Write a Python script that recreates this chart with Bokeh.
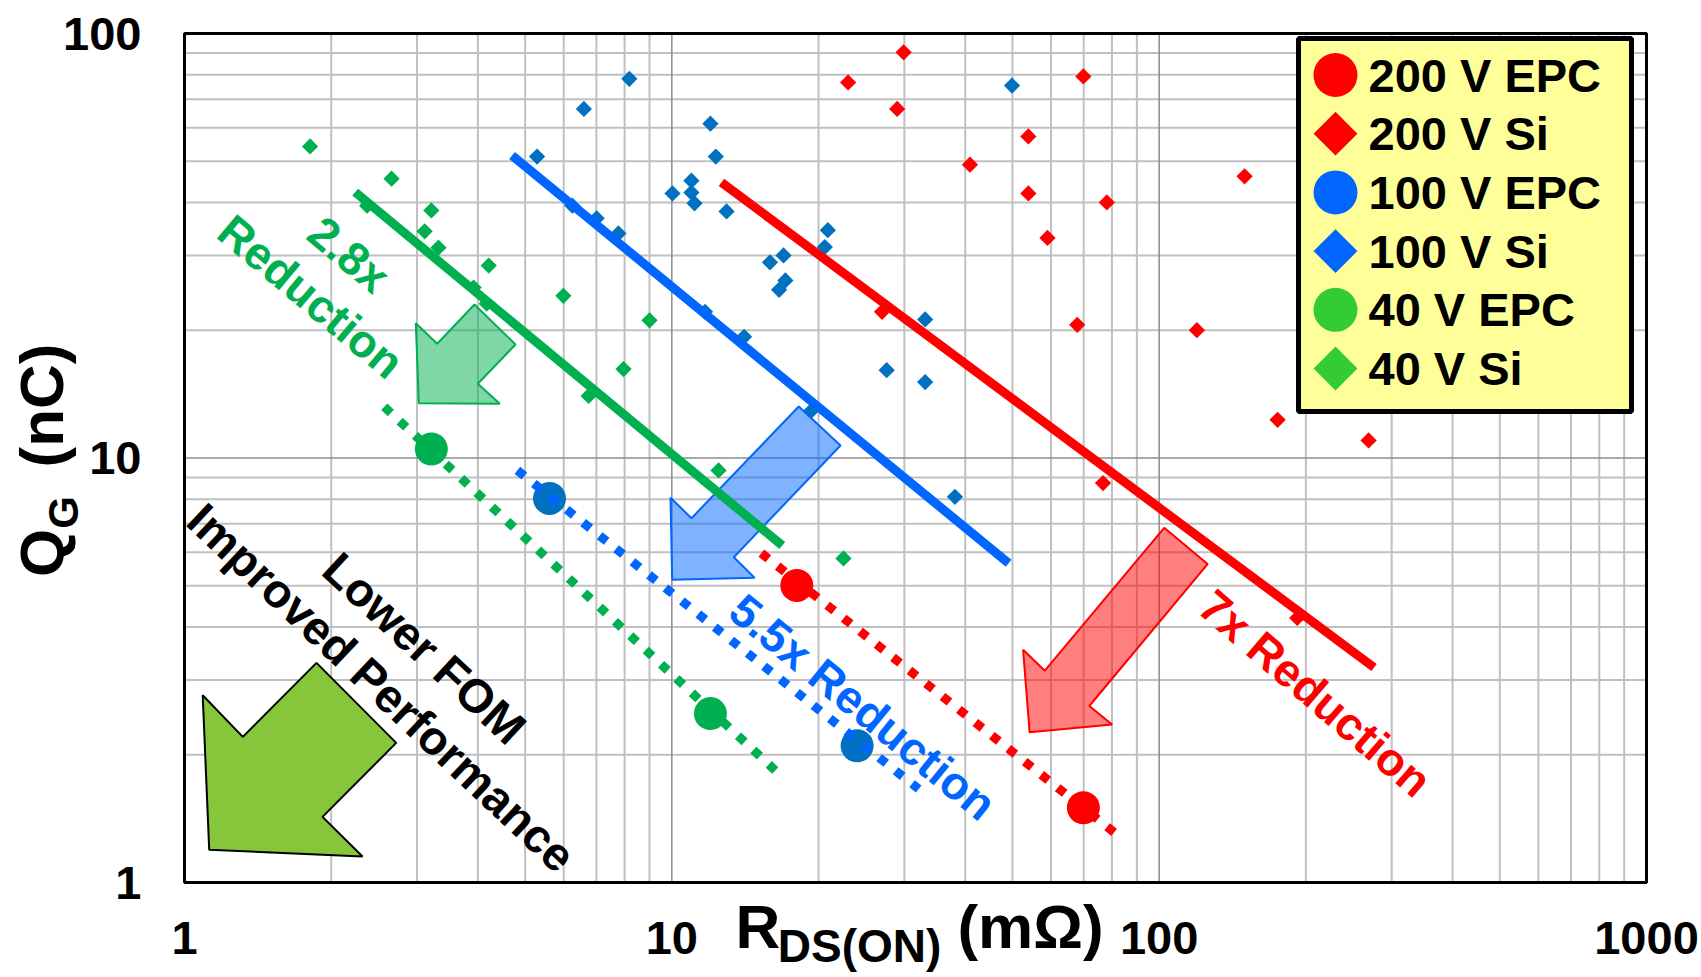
import math
from bokeh.plotting import figure
from bokeh.models import Range1d, LinearScale, Label, BoxAnnotation
from bokeh.embed import file_html
from bokeh.resources import INLINE

# ---------------- data ----------------
# 40 V silicon devices: RDS(on) [mOhm], QG [nC]
si40_r = [1.81, 2.66, 3.21, 3.11, 3.32, 2.37, 4.21, 3.92, 4.17, 5.99, 9.0, 7.96, 6.75, 12.47, 22.5]
si40_q = [54.2, 45.5, 38.3, 34.2, 31.3, 39.3, 28.4, 25.2, 23.1, 24.1, 21.1, 16.2, 14.0, 9.35, 5.80]

# 100 V silicon devices
si100_r = [8.18, 6.60, 12.0, 5.29, 12.31, 10.97, 10.97, 11.13, 10.03, 12.95, 6.25, 7.01, 7.77,
           20.9, 20.6, 16.95, 15.9, 17.1, 16.6, 11.7, 14.07, 19.3, 49.9, 33.1, 27.6, 33.1, 38.1]
si100_q = [78.2, 66.4, 61.3, 51.3, 51.3, 45.0, 42.2, 39.8, 42.0, 38.1, 39.3, 36.7, 33.8,
           34.4, 31.4, 30.0, 28.9, 26.2, 24.9, 22.1, 19.3, 12.9, 75.4, 21.2, 16.1, 15.1, 8.10]

# 200 V silicon devices
si200_r = [23.0, 29.9, 29.0, 69.9, 53.9, 40.9, 53.9, 78.1, 59.0, 149.7, 27.0, 67.9, 119.5, 175, 269, 76.7, 192]
si200_q = [76.7, 90.3, 66.4, 79.2, 57.2, 49.1, 42.0, 40.0, 33.0, 46.1, 22.1, 20.6, 20.0, 12.3, 11.0, 8.73, 4.20]

# EPC devices
epc40_r = [3.21, 12.0]
epc40_q = [10.5, 2.50]
epc100_r = [5.61, 24.0]
epc100_q = [8.03, 2.10]
epc200_r = [18.05, 69.9]
epc200_q = [5.01, 1.50]

# trend lines (end points)
fit_si40_r = [2.24, 16.85]
fit_si40_q = [42.3, 6.22]
fit_si100_r = [4.70, 49.1]
fit_si100_q = [51.6, 5.65]
fit_si200_r = [12.64, 276.0]
fit_si200_q = [44.6, 3.21]
fit_epc40_r = [2.57, 16.7]
fit_epc40_q = [13.2, 1.79]
fit_epc100_r = [4.82, 32.1]
fit_epc100_q = [9.35, 1.66]
fit_epc200_r = [15.26, 81.7]
fit_epc200_q = [5.97, 1.30]

# axes
x_major = [1, 10, 100, 1000]
x_labels = ["1", "10", "100", "1000"]
y_major = [1, 10, 100]
y_labels = ["1", "10", "100"]
x_minor = [m * 10 ** k for k in range(3) for m in range(2, 10)]
y_minor = [m * 10 ** k for k in range(2) for m in range(2, 10)]

legend_labels = ["200 V EPC", "200 V Si", "100 V EPC", "100 V Si", "40 V EPC", "40 V Si"]
legend_markers = ["circle", "square", "circle", "square", "circle", "square"]
legend_colors = ["#ff0000", "#ff0000", "#0066ff", "#0066ff", "#33cc33", "#33cc33"]

# ---------------- layout (canvas px) ----------------
W, H = 1700, 976
PL, PR, PT, PB = 184, 1646, 33, 882      # plot area edges on the canvas
DX = (PR - PL) / math.log10(x_major[-1] / x_major[0])
DY = (PB - PT) / math.log10(y_major[-1] / y_major[0])


def fx(x):
    return x


def fy(y):
    return H - y


FONT = "Liberation Sans"
RED, BLUE, GREEN = "#ff0000", "#0066ff", "#00b050"
DBLUE = "#0070c0"

xr = Range1d(x_major[0] * 10 ** (-PL / DX), x_major[-1] * 10 ** ((W - PR) / DX))
yr = Range1d(y_major[0] * 10 ** (-(H - PB) / DY), y_major[-1] * 10 ** (PT / DY))

p = figure(width=W, height=H, x_axis_type="log", y_axis_type="log",
           x_range=xr, y_range=yr,
           x_axis_location=None, y_axis_location=None, title_location=None,
           min_border=0, output_backend="svg", toolbar_location=None)
p.xgrid.visible = False
p.ygrid.visible = False
p.outline_line_color = None
p.background_fill_color = "white"
p.border_fill_color = "white"

p.extra_x_ranges = {"px": Range1d(0, W)}
p.extra_y_ranges = {"px": Range1d(0, H)}
p.extra_x_scales = {"px": LinearScale()}
p.extra_y_scales = {"px": LinearScale()}

# ---------------- grid ----------------
x0, x1 = x_major[0], x_major[-1]
y0, y1 = y_major[0], y_major[-1]
p.segment(x0=x_minor, y0=[y0] * len(x_minor), x1=x_minor, y1=[y1] * len(x_minor),
          line_color="#c0c0c0", line_width=2)
p.segment(x0=[x0] * len(y_minor), y0=y_minor, x1=[x1] * len(y_minor), y1=y_minor,
          line_color="#c0c0c0", line_width=2)
p.segment(x0=x_major[1:-1], y0=[y0] * 2, x1=x_major[1:-1], y1=[y1] * 2,
          line_color="#8c8c8c", line_width=1.5)
p.segment(x0=[x0], y0=y_major[1:-1], x1=[x1], y1=y_major[1:-1],
          line_color="#8c8c8c", line_width=1.5)

# ---------------- data marks ----------------
DIA = dict(marker="square", size=11.5, angle=math.pi / 4, line_color=None)
p.scatter(si40_r, si40_q, fill_color=GREEN, **DIA)
p.scatter(si100_r, si100_q, fill_color=DBLUE, **DIA)
p.scatter(si200_r, si200_q, fill_color=RED, **DIA)

p.scatter(epc40_r, epc40_q, marker="circle", size=33, fill_color=GREEN, line_color=None)
p.scatter(epc100_r, epc100_q, marker="circle", size=33, fill_color=DBLUE, line_color=None)
p.scatter(epc200_r, epc200_q, marker="circle", size=33, fill_color=RED, line_color=None)

# ---------------- arrows (drawn shapes, canvas px) ----------------
arrows = [
    ([(208.7, 849.3), (202.2, 694.7), (242.3, 736.4), (316, 662.4), (395.7, 742.4), (322, 816.4), (362, 856)],
     "#85c63a", 1.0, "black"),
    ([(418.3, 402.7), (415.3, 322.7), (436.7, 343.3), (474, 304), (515, 344), (477.3, 383.3), (499.3, 403.3)],
     GREEN, 0.5, GREEN),
    ([(671.7, 579.3), (670, 497.3), (691, 517.7), (798.3, 406), (840, 445), (733.3, 556.7), (754, 577.3)],
     BLUE, 0.5, BLUE),
    ([(1029.1, 731.7), (1022.6, 649.3), (1044.3, 670.2), (1163.7, 527.3), (1207.1, 563.6), (1088.8, 705.5),
      (1111.6, 724)], RED, 0.5, RED),
]
for poly, fc, fa, lc in arrows:
    p.patch([fx(a) for a, b in poly], [fy(b) for a, b in poly], x_range_name="px", y_range_name="px",
            fill_color=fc, fill_alpha=fa, line_color=lc, line_width=2)

# trend lines
for xs, ys, c in ((fit_si40_r, fit_si40_q, GREEN), (fit_si100_r, fit_si100_q, BLUE), (fit_si200_r, fit_si200_q, RED)):
    p.line(xs, ys, line_color=c, line_width=9)
for xs, ys, c in ((fit_epc40_r, fit_epc40_q, GREEN), (fit_epc100_r, fit_epc100_q, BLUE),
                  (fit_epc200_r, fit_epc200_q, RED)):
    p.line(xs, ys, line_color=c, line_width=9, line_dash="9 12")

# plot frame
p.add_layout(BoxAnnotation(left=x0, right=x1, bottom=y0, top=y1, fill_alpha=0,
                           line_color="black", line_alpha=1.0, line_width=3))


def add_text(text, x, y, size, color="black", angle=0.0, align="center",
             x_units="screen", y_units="screen"):
    p.add_layout(Label(x=x, y=y, x_units=x_units, y_units=y_units, text=text,
                       text_font=FONT, text_font_style="bold", text_font_size=f"{size}px",
                       text_color=color, angle=angle, text_align=align, text_baseline="middle"))


# ---------------- tick labels ----------------
for v, t in zip(x_major, x_labels):
    add_text(t, v, fy(937.5), 47, x_units="data")
for v, t in zip(y_major, y_labels):
    add_text(t, fx(141), v, 47, y_units="data", align="right")

# ---------------- axis titles ----------------
add_text("R", fx(757.5), fy(926), 62)
add_text("DS(ON)", fx(859), fy(945), 46)
add_text("(m\u03a9)", fx(1030), fy(926), 62)

add_text("Q", fx(40.5), fy(552.5), 62, angle=math.pi / 2)
add_text("G", fx(62.5), fy(512), 42, angle=math.pi / 2)
add_text("(nC)", fx(40.5), fy(405), 62, angle=math.pi / 2)

# ---------------- annotations ----------------
deg = math.pi / 180
add_text("2.8x", fx(348.5), fy(254), 46, GREEN, -40 * deg)
add_text("Reduction", fx(310.5), fy(296), 46, GREEN, -40 * deg)
add_text("5.5x Reduction", fx(862.5), fy(706.5), 46, BLUE, -39.2 * deg)
add_text("7x Reduction", fx(1314.8), fy(692.8), 46, RED, -40.7 * deg)
add_text("Lower FOM", fx(424), fy(647.5), 47, "black", -42.8 * deg)
add_text("Improved Performance", fx(381), fy(687), 47, "black", -43.3 * deg)

# ---------------- legend ----------------
p.add_layout(BoxAnnotation(left=fx(1298), right=fx(1631), top=fy(38), bottom=fy(411),
                           left_units="screen", right_units="screen", top_units="screen", bottom_units="screen",
                           fill_color="#ffff99", fill_alpha=1.0, line_color="black", line_alpha=1.0,
                           line_width=5))
ROW0, PITCH = 74.5, 58.7
for i, (lab, mk, col) in enumerate(zip(legend_labels, legend_markers, legend_colors)):
    yy = fy(ROW0 + PITCH * i)
    if mk == "circle":
        r = p.scatter([fx(1335)], [yy], marker="circle", size=44, fill_color=col, line_color=None,
                      x_range_name="px", y_range_name="px")
    else:
        r = p.scatter([fx(1335)], [yy], marker="square", size=31, angle=math.pi / 4, fill_color=col,
                      line_color=None, x_range_name="px", y_range_name="px")
    r.level = "overlay"
    add_text(lab, fx(1368), yy, 47, align="left")

open("out.html", "w").write(file_html(p, INLINE))
